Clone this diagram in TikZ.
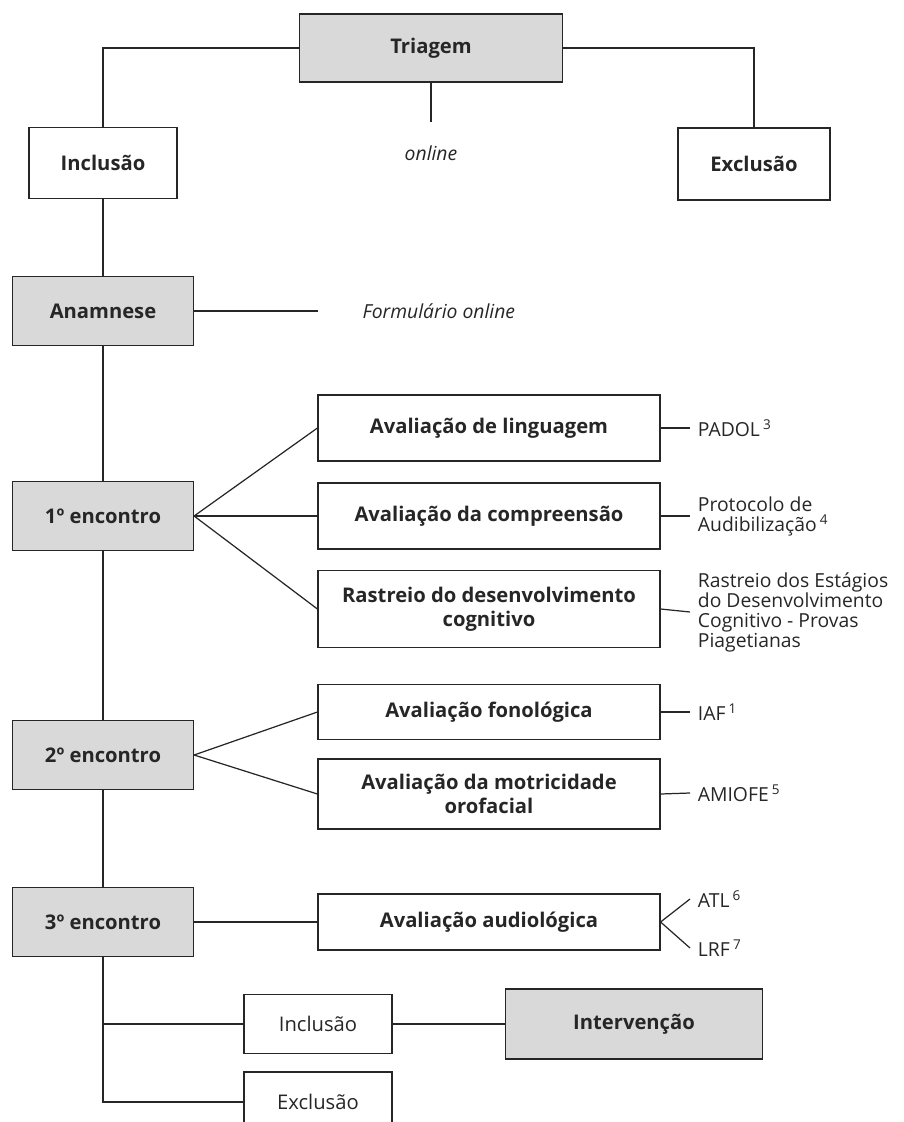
\documentclass[tikz,border=0pt]{standalone}
\usepackage{fontspec}
\setmainfont{Open Sans}
\begin{document}
\begin{tikzpicture}[x=0.02cm, y=-0.02cm, line width=0.7pt, color=black!85,
  box/.style={draw, align=center, inner sep=2pt, font=\fontsize{11.5}{13.6}\selectfont\bfseries},
  grey/.style={box, fill=black!15},
  plain/.style={draw, inner sep=2pt, font=\fontsize{11.5}{13.6}\selectfont},
  encbox/.style={grey, minimum width=3.62cm, minimum height=1.38cm},
  testbox/.style={box, minimum width=6.84cm},
  note/.style={anchor=west, align=left, inner sep=0pt, outer xsep=4.5pt, font=\fontsize{11}{11.4}\selectfont}]
\path[use as bounding box, clip] (0,0) rectangle (903,1122);

% triagem
\node[grey, minimum width=5.26cm, minimum height=1.36cm] (tri) at (431,48) {Triagem};
\node[box, minimum width=2.96cm, minimum height=1.42cm] (inc) at (103,163) {Inclusão};
\node[box, minimum width=3.04cm, minimum height=1.44cm] (exc) at (754,164) {Exclusão};
\coordinate (onl) at (431,122);
\node[font=\fontsize{11}{13}\selectfont\itshape] (online) at (431,153) {online};

% anamnese
\node[encbox] (ana) at (103,311) {Anamnese};
\coordinate (frm) at (318,311);
\node[anchor=west, inner sep=0pt, font=\fontsize{11}{13}\selectfont\itshape] (form) at (362,311) {Formulário online};

% encontros
\node[encbox] (enc1) at (103,516) {1º encontro};
\node[encbox] (enc2) at (103,755) {2º encontro};
\node[encbox] (enc3) at (103,922) {3º encontro};

\node[testbox, minimum height=1.32cm] (ling) at (489,428) {Avaliação de linguagem};
\node[testbox, minimum height=1.32cm] (comp) at (489,516) {Avaliação da compreensão};
\node[testbox, minimum height=1.54cm] (rast) at (489,609) {Rastreio do desenvolvimento\\cognitivo};
\node[testbox, minimum height=1.1cm] (fon) at (489,712) {Avaliação fonológica};
\node[testbox, minimum height=1.4cm] (mot) at (489,794) {Avaliação da motricidade\\orofacial};
\node[testbox, minimum height=1.12cm] (aud) at (489,922) {Avaliação audiológica};

\node[note] (padol) at (690,428) {PADOL\,\textsuperscript{3}};
\node[note] (prot) at (690,516) {Protocolo de\\Audibilização\,\textsuperscript{4}};
\node[note] (piag) at (690,612) {Rastreio dos Estágios\\do Desenvolvimento\\Cognitivo - Provas\\Piagetianas};
\node[note] (iaf) at (690,712) {IAF\,\textsuperscript{1}};
\node[note] (amiofe) at (690,793) {AMIOFE\,\textsuperscript{5}};
\node[note] (atl) at (690,899) {ATL\,\textsuperscript{6}};
\node[note] (lrf) at (690,948) {LRF\,\textsuperscript{7}};

% depois do 3o encontro
\node[plain, minimum width=2.96cm, minimum height=1.18cm] (inl) at (318,1024) {Inclusão};
\node[grey, minimum width=5.14cm, minimum height=1.4cm] (int) at (634,1024) {Intervenção};
\node[plain, minimum width=2.96cm, minimum height=1.2cm] (exl) at (318,1102) {Exclusão};
\coordinate (end) at (enc3.south |- exl.west);

\draw (tri.west) -| (inc.north);
\draw (tri.east) -| (exc.north);
\draw (tri.south) -- (onl);
\draw (inc.south) -- (ana.north);
\draw (ana.east) -- (frm);
\draw (ana.south) -- (enc1.north) (enc1.south) -- (enc2.north) (enc2.south) -- (enc3.north);
\foreach \b in {ling,comp,rast} \draw (enc1.east) -- (\b.west);
\foreach \b in {fon,mot} \draw (enc2.east) -- (\b.west);
\draw (enc3.east) -- (aud.west);
\draw (ling.east) -- (padol.west);
\draw (comp.east) -- (prot.west);
\draw (rast.east) -- (piag.west);
\draw (fon.east) -- (iaf.west);
\draw (mot.east) -- (amiofe.west);
\draw (atl.west) -- (aud.east) -- (lrf.west);
\draw (enc3.south) -- (end) -- (exl.west);
\draw (enc3.south |- inl.west) -- (inl.west);
\draw (inl.east) -- (int.west);
\end{tikzpicture}
\end{document}
